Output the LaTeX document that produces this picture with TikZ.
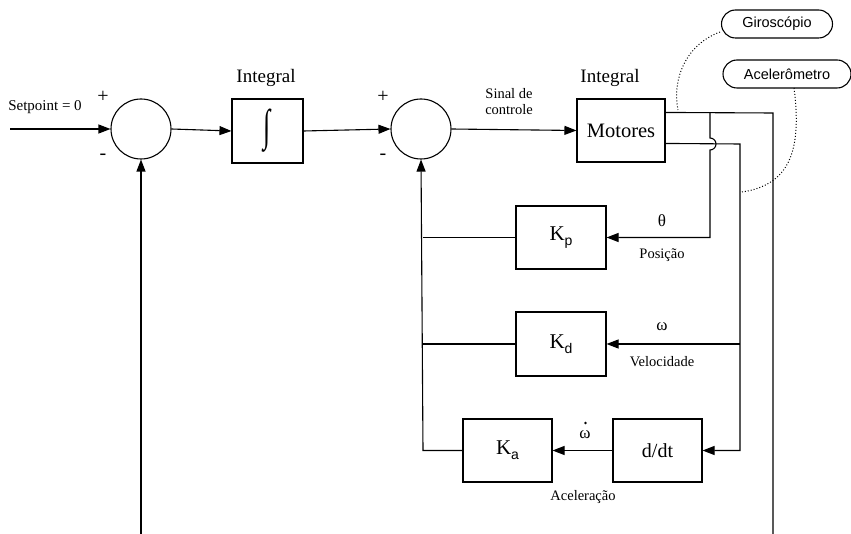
\documentclass[tikz,border=0pt]{standalone}
\usepackage{fontspec}
\setmainfont{Liberation Serif}
\newfontfamily\sansf{Liberation Sans}
\usetikzlibrary{arrows.meta,calc}
\begin{document}
\begin{tikzpicture}[x=1pt,y=-1pt,line width=1.1pt,
  arr/.style={-{Triangle[length=12pt,width=9pt]}},
  blk/.style={draw,rectangle,inner sep=0pt},
  sumc/.style={draw,circle,minimum size=60pt,inner sep=0pt},
  pill/.style={draw,rounded corners=14pt,minimum height=28pt,inner sep=0pt,font=\sansf\fontsize{14.5}{14.5}\selectfont},
  lbl/.style={inner sep=0pt,font=\fontsize{14.5}{17}\selectfont,align=center},
  big/.style={inner sep=0pt,font=\fontsize{19}{20}\selectfont},
  sgn/.style={inner sep=0pt,font=\fontsize{20}{20}\selectfont}]
\useasboundingbox (0,0) rectangle (851,534);
% blocks
\node[sumc] (c1) at (141,129) {};
\node[blk,minimum width=71pt,minimum height=64pt] (int1) at (267.5,131) {\fontsize{26}{26}\selectfont\scalebox{1}[1.7]{∫}};
\node[sumc] (c2) at (421,129) {};
\node[blk,minimum width=88pt,minimum height=63pt,font=\fontsize{20.5}{20.5}\selectfont] (mot) at (621,130.5) {Motores};
\node[blk,minimum width=90pt,minimum height=63pt,font=\fontsize{21}{21}\selectfont] (kp) at (561,237.5) {K{\sansf\fontsize{14}{14}\selectfont\raisebox{-5pt}{p}}};
\node[blk,minimum width=90pt,minimum height=64pt,font=\fontsize{21}{21}\selectfont] (kd) at (561,344) {K{\sansf\fontsize{14}{14}\selectfont\raisebox{-5pt}{d}}};
\node[blk,minimum width=89pt,minimum height=63pt,font=\fontsize{21}{21}\selectfont] (ka) at (507.5,450.5) {K{\sansf\fontsize{14}{14}\selectfont\raisebox{-5pt}{a}}};
\node[blk,minimum width=89pt,minimum height=63pt,font=\fontsize{20}{20}\selectfont] (dd) at (657.5,450.5) {d/dt};
\node[pill,minimum width=111pt] (giro) at (777,24) {Giroscópio};
\node[pill,minimum width=128pt] (acel) at (787,74) {Acelerômetro};
% labels
\node[big] (lint1) at (266,78) {Integral};
\node[big] (lint2) at (610,78) {Integral};
\node[lbl,font=\fontsize{15}{17}\selectfont] (lsp) at (45,107) {Setpoint = 0};
\node[lbl] (lsig) at (509,102) {Sinal de\\[-1pt]controle};
\node[sgn] (p1) at (103,97) {+};
\node[sgn] (m1) at (103,157) {-};
\node[sgn] (p2) at (383,97) {+};
\node[sgn] (m2) at (383,157) {-};
\node[lbl,font=\fontsize{17}{17}\selectfont] (lth) at (662,221) {θ};
\node[lbl] (lpos) at (662,255) {Posição};
\node[lbl,font=\fontsize{17}{17}\selectfont] (lom) at (662,327) {ω};
\node[lbl] (lvel) at (662,362) {Velocidade};
\node[lbl,font=\fontsize{17}{17}\selectfont] (lomd) at (585,435) {ω};
\fill (585.5,423) circle (1.3pt);
\node[lbl] (lacc) at (583,497) {Aceleração};
% coordinates
\coordinate (sp) at (10,129);
\coordinate (o1) at ($(mot.north east)+(0,14)$);
\coordinate (o2) at ($(mot.north east)+(0,45)$);
\coordinate (r1) at (773,113);
\coordinate (r1b) at (773,534);
\coordinate (fb1) at (141,534);
\coordinate (r2) at (740,144);
\coordinate (j2) at (740,344);
\coordinate (r2b) at (740,450.5);
\coordinate (t1) at (710,113);
\coordinate (l1) at (423,237.5);
\coordinate (l2) at (423,344);
\coordinate (l3) at (423,450.5);
% connectors
\draw[arr] (sp) -- (c1.west);
\draw[arr] (c1.east) -- (int1.west);
\draw[arr] (int1.east) -- (c2.west);
\draw[arr] (c2.east) -- (mot.west);
\draw (o1) -- (r1) -- (r1b);
\draw[arr] (fb1) -- (c1.south);
\draw[arr] (o2) -- (r2) -- (r2b) -- (dd.east);
\draw[arr] (j2) -- (kd.east);
\draw[arr] (t1) -- (710,138) arc(-90:90:6) -- (710,237.5) -- (kp.east);
\draw[arr] (dd.west) -- (ka.east);
\draw[arr] (ka.west) -- (l3) -- (c2.south);
\draw (kd.west) -- (l2);
\draw (kp.west) -- (l1);
% dotted sensor links
\draw[dotted,line width=1pt] (720,32) .. controls (685,45) and (672,80) .. (678,110);
\draw[dotted,line width=1pt] (794,88) .. controls (802,150) and (790,185) .. (742,192);
\end{tikzpicture}
\end{document}
